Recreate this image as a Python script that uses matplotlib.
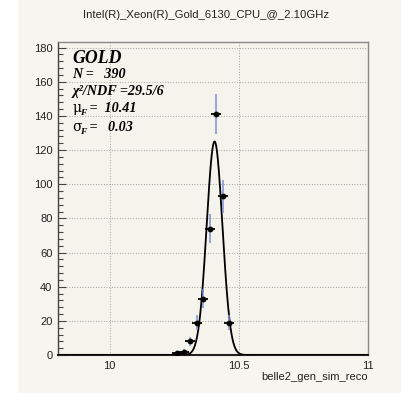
import numpy as np
import matplotlib
matplotlib.use("Agg")
import matplotlib.pyplot as plt
from matplotlib.ticker import MultipleLocator
from matplotlib.patches import Rectangle

# ---- data ----
title = "Intel(R)_Xeon(R)_Gold_6130_CPU_@_2.10GHz"
xlabel = "belle2_gen_sim_reco"
bin_centers = [10.2625, 10.2875, 10.3125, 10.3375, 10.3625, 10.3875, 10.4125, 10.4375, 10.4625]
counts = [1, 2, 8, 19, 33, 74, 141, 93, 19]
fit_amp = 125.0
fit_mu = 10.406
fit_sigma = 0.0305
stat_name = "GOLD"
stat_n = "390"
stat_chi2 = "29.5/6"
stat_mu = "10.41"
stat_sigma = "0.03"
x_ticks = [10, 10.5, 11]
x_tick_labels = ["10", "10.5", "11"]
y_ticks = [0, 20, 40, 60, 80, 100, 120, 140, 160, 180]

W, H = 401, 393
fig = plt.figure(figsize=(W / 100, H / 100), dpi=100)
fig.patch.set_facecolor("#f6f5ef")
fig.patches.append(Rectangle((0, 0), 18 / W, 1, transform=fig.transFigure,
                             facecolor="white", edgecolor="none", zorder=-10))

ax = fig.add_axes([58 / W, 1 - 355 / H, (368 - 58) / W, (355 - 41.7) / H])
ax.set_facecolor("#f4f3ec")
ax.set_xlim(9.8, 11.0)
ax.set_ylim(0, 183.4)

# grid
for yv in y_ticks[1:]:
    ax.axhline(yv, color="#9a9a9a", lw=0.6, ls=(0, (1.2, 2.0)), zorder=0)
for xv in x_ticks[:-1]:
    ax.axvline(xv, color="#9a9a9a", lw=0.6, ls=(0, (1.2, 2.0)), zorder=0)

# fit curve
xs = np.linspace(9.8, 11.0, 1200)
ax.plot(xs, fit_amp * np.exp(-0.5 * ((xs - fit_mu) / fit_sigma) ** 2),
        color="black", lw=1.3, zorder=3)

# data points with Poisson errors
c = np.array(counts, dtype=float)
ax.errorbar(bin_centers, c, yerr=np.sqrt(c), fmt="none", ecolor="#7f90d0",
            elinewidth=1.1, capsize=0, zorder=4)
ax.plot(bin_centers, c, "o", color="black", ms=4.2, mew=0, zorder=5)
ax.plot(bin_centers, c, "_", color="black", ms=7, mew=1.3, zorder=5)

# ticks
ax.set_xticks(x_ticks)
ax.set_xticklabels(x_tick_labels)
ax.set_yticks(y_ticks)
ax.yaxis.set_minor_locator(MultipleLocator(4))
ax.tick_params(axis="y", which="major", direction="in", length=6, width=0.8,
               color="#444444", labelsize=8, pad=4, labelcolor="#222222")
ax.tick_params(axis="y", which="minor", direction="in", length=3.5, width=0.8,
               color="#444444")
ax.tick_params(axis="x", which="both", length=0, labelsize=8, pad=4,
               labelcolor="#222222")
for lab in ax.get_xticklabels() + ax.get_yticklabels():
    lab.set_fontfamily("Liberation Sans")

for s in ["top", "right"]:
    ax.spines[s].set_color("#888888")
    ax.spines[s].set_linewidth(1.0)
ax.spines["left"].set_color("#444444")
ax.spines["left"].set_linewidth(1.0)
ax.spines["bottom"].set_color("#222222")
ax.spines["bottom"].set_linewidth(1.5)

# title and x label
fig.text(206 / W, 1 - 15 / H, title, ha="center", va="center", fontsize=8.1,
         family="Liberation Sans", color="#222222")
fig.text(368 / W, 1 - 377 / H, xlabel, ha="right", va="center", fontsize=8,
         family="Liberation Sans", color="#222222")

# stats box text
def ft(x, y, s, **kw):
    fig.text(x / W, 1 - y / H, s, va="baseline", ha="left", color="black", **kw)

serif_bi = dict(family="Liberation Serif", weight="bold", style="italic")
ft(72.5, 63.3, stat_name, fontsize=12.8, **serif_bi)
ft(72.5, 77.7, "N =   " + stat_n, fontsize=10.2, **serif_bi)
ft(72.5, 95, "\u03c7\u00b2/NDF =" + stat_chi2, fontsize=10.2, **serif_bi)
ft(72.5, 111.7, "\u03bc", fontsize=10, family="DejaVu Serif")
ft(80.5, 115, "F", fontsize=6.8, **serif_bi)
ft(86, 111.7, " =  " + stat_mu, fontsize=10.2, **serif_bi)
ft(72.5, 130.7, "\u03c3", fontsize=10, family="DejaVu Serif")
ft(80.5, 134, "F", fontsize=6.8, **serif_bi)
ft(86, 130.7, " =   " + stat_sigma, fontsize=10.2, **serif_bi)

fig.savefig("out.png", dpi=100, facecolor=fig.get_facecolor())
